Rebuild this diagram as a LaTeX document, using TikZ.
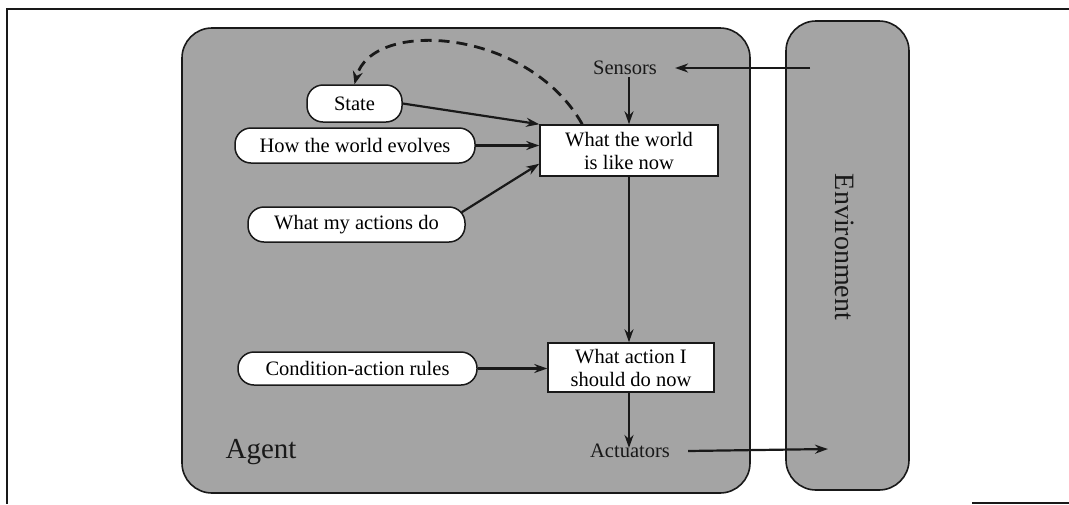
\documentclass[tikz,border=0pt]{standalone}
\usepackage{fontspec}
\setmainfont{Liberation Serif}
\usetikzlibrary{arrows.meta,calc}

\definecolor{boxgray}{RGB}{164,164,164}
\definecolor{inkline}{RGB}{25,25,25}

\tikzset{
  region/.style={draw=inkline, line width=1.6pt, fill=boxgray},
  memo/.style={draw=inkline, line width=1.5pt, fill=white, rounded corners=16pt,
               inner sep=0pt, minimum height=35pt},
  stage/.style={draw=inkline, line width=1.5pt, fill=white, align=center,
                inner sep=0pt},
  flow/.style={draw=inkline, line width=2.2pt, -{Stealth[length=13pt,width=9pt]}},
  tag/.style={inner sep=2pt, text=inkline},
}

\begin{document}
\begin{tikzpicture}[x=1pt, y=-1pt, font=\fontsize{20.5}{23}\selectfont]
  \useasboundingbox (0,0) rectangle (1069,504);

  % page frame
  \draw[line width=1.8pt, inkline] (1069,9) -- (7,9) -- (7,504);
  \draw[line width=2.5pt, inkline] (972,503) -- (1069,503);

  % agent and environment regions
  \path[region, rounded corners=30pt] (182,28) rectangle (750,493);
  \path[region, rounded corners=30pt] (786,21) rectangle (909,490);

  \node[tag, font=\fontsize{29}{32}\selectfont] (agent) at (261,452) {Agent};
  \node[tag, rotate=-90, font=\fontsize{28}{31}\selectfont] (env) at (845,247) {Environment};

  % internal state and knowledge
  \node[memo, minimum width=95pt, minimum height=37pt] (state) at (354.5,103.5) {State};
  \node[memo, minimum width=240pt] (how) at (355,145.5) {How the world evolves};
  \node[memo, minimum width=217pt] (acts) at (356.5,224.5) {What my actions do};
  \node[memo, minimum width=239pt, minimum height=33pt] (rules) at (357.5,368.5) {Condition-action rules};

  % processing stages
  \node[stage, minimum width=178pt, minimum height=51pt] (world) at (629,150.5)
       {What the world\\is like now};
  \node[stage, minimum width=166pt, minimum height=49pt] (action) at (631,367.5)
       {What action I\\should do now};

  % percepts and actions
  \node[tag] (sensors) at (625,68) {Sensors};
  \node[tag] (actuators) at (630,451) {Actuators};
  \coordinate (percept) at (810,68);
  \coordinate (effect) at (828,449);

  % connectors
  \draw[flow] (percept) -- ([xshift=16pt]sensors.east);
  \draw[flow] (world.north |- sensors.south) -- (world.north);
  \draw[flow] (state.east) -- (world.north west);
  \draw[flow] (how.east) -- (how.east -| world.west);
  \draw[flow] ($(acts.north east)+(-4,6)$) -- ($(world.south west)+(0,-13)$);
  \draw[draw=inkline, line width=2.8pt, dash pattern=on 11pt off 7pt,
        -{Stealth[length=13pt,width=10pt]}]
       ($(world.north west)+(43,0)$) .. controls (528,28) and (372,18) .. (state.north);
  \draw[flow] (world.south) -- (world.south |- action.north);
  \draw[flow] (rules.east) -- (rules.east -| action.west);
  \draw[flow] (world.south |- action.south) -- ([yshift=-6pt]world.south |- actuators.north);
  \draw[flow] ([xshift=16pt]actuators.east) -- (effect);
\end{tikzpicture}
\end{document}
